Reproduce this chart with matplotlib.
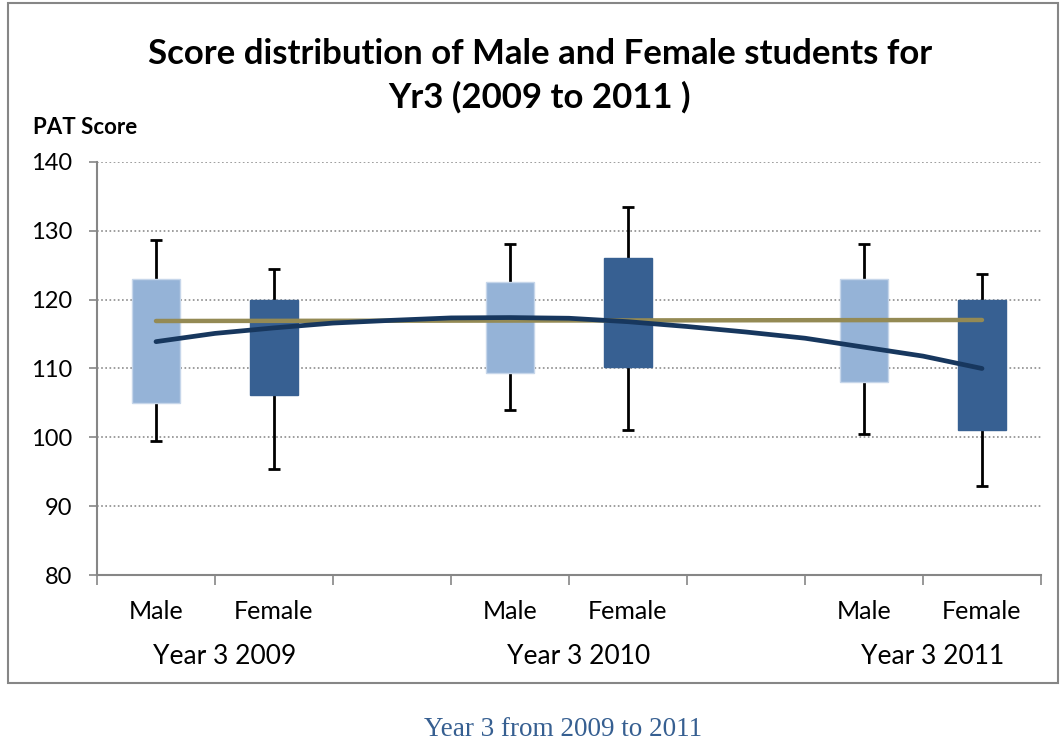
import matplotlib
matplotlib.use('Agg')

import matplotlib.pyplot as plt
import matplotlib.transforms as mtransforms
from matplotlib.patches import Rectangle

plt.rcParams['font.family'] = ['Lato', 'DejaVu Sans']

# -----------------------------
# Data
# -----------------------------

groups = ['Year 3 2009', 'Year 3 2010', 'Year 3 2011']

# category slot of each box (empty slots 3 and 6 separate the years)
slots = [1, 2, 4, 5, 7, 8]
box_gender = ['Male', 'Female', 'Male', 'Female', 'Male', 'Female']

whisker_low = [99.4, 95.4, 104.0, 101.0, 100.5, 93.0]
box_low = [105.0, 106.2, 109.4, 110.2, 108.0, 101.0]
box_high = [123.0, 119.9, 122.5, 126.1, 123.0, 120.0]
whisker_high = [128.7, 124.4, 128.1, 133.4, 128.1, 123.8]

# trend curve, sampled every half category
trend_slots = [1, 1.5, 2, 2.5, 3, 3.5, 4, 4.5, 5, 5.5, 6, 6.5, 7, 7.5, 8]
trend_values = [113.9, 115.1, 115.9, 116.6, 117.0, 117.35, 117.4, 117.3,
                116.8, 116.1, 115.3, 114.4, 113.1, 111.8, 110.0]

level_slots = [1, 8]
level_values = [116.9, 117.05]

colors = {'Male': '#95B3D7', 'Female': '#376092'}

# -----------------------------
# Figure
# -----------------------------

fig = plt.figure(figsize=(10.64, 7.44), dpi=100)
ax = fig.add_axes([97 / 1064, 1 - 575 / 744, 944 / 1064, 413 / 744])

fig.patches.append(Rectangle((0.0075, 0.082), 0.987, 0.914,
                             transform=fig.transFigure, fill=False,
                             edgecolor='#868686', linewidth=1.5))

# whiskers and caps
for s, lo, q1, q3, hi in zip(slots, whisker_low, box_low, box_high, whisker_high):
    ax.vlines(s, lo, q1, color='black', linewidth=2, zorder=2)
    ax.vlines(s, q3, hi, color='black', linewidth=2, zorder=2)
    ax.hlines([lo, hi], s - 0.05, s + 0.05, color='black', linewidth=2, zorder=2)

# boxes
for s, g, q1, q3 in zip(slots, box_gender, box_low, box_high):
    edge = '#C6D6EA' if g == 'Male' else colors[g]
    ax.bar(s, q3 - q1, bottom=q1, width=0.4, color=colors[g],
           edgecolor=edge, linewidth=1, zorder=3)

ax.plot(level_slots, level_values, color='#948A54', linewidth=3.2,
        solid_capstyle='round', zorder=4)
ax.plot(trend_slots, trend_values, color='#17375E', linewidth=3.4,
        solid_capstyle='round', solid_joinstyle='round', zorder=5)

# -----------------------------
# Axes styling
# -----------------------------

ax.set_xlim(0.5, 8.5)
ax.set_ylim(80, 140)
ax.set_yticks(range(80, 141, 10))
ax.set_yticklabels([str(v) for v in range(80, 141, 10)], fontsize=17)
ax.yaxis.grid(True, linestyle=(0, (1, 1.5)), color='#8C8C8C', linewidth=1.2)
ax.set_axisbelow(True)

ax.set_xticks([x + 0.5 for x in range(9)])
ax.set_xticklabels([])
ax.set_xticks(slots, minor=True)
ax.set_xticklabels(box_gender, minor=True, fontsize=18)
ax.tick_params(axis='x', which='major', direction='out', length=7,
               color='#868686', width=1.2)
ax.tick_params(axis='x', which='minor', length=0, pad=18)
ax.tick_params(axis='y', direction='out', length=6, color='#868686',
               width=1.2, pad=12)

for side in ['top', 'right']:
    ax.spines[side].set_visible(False)
for side in ['left', 'bottom']:
    ax.spines[side].set_color('#868686')
    ax.spines[side].set_linewidth(1.5)

trans = mtransforms.blended_transform_factory(ax.transData, fig.transFigure)
for i, name in enumerate(groups):
    ax.text(3 * i + 1.58, 1 - 656 / 744, name, transform=trans,
            ha='center', va='center', fontsize=19)

fig.text(540 / 1064, 1 - 76 / 744,
         'Score distribution of Male and Female students for\nYr3 (2009 to 2011 )',
         ha='center', va='center', fontsize=25, fontweight='bold',
         linespacing=1.4)
fig.text(33 / 1064, 1 - 127 / 744, 'PAT Score', ha='left', va='center',
         fontsize=16, fontweight='bold')

fig.text(563 / 1064, 1 - 730 / 744, 'Year 3 from 2009 to 2011',
         ha='center', va='center', fontsize=19.5, color='#365F91',
         family=['Liberation Serif', 'DejaVu Serif'])

fig.savefig('out.png', dpi=100)
plt.close(fig)
